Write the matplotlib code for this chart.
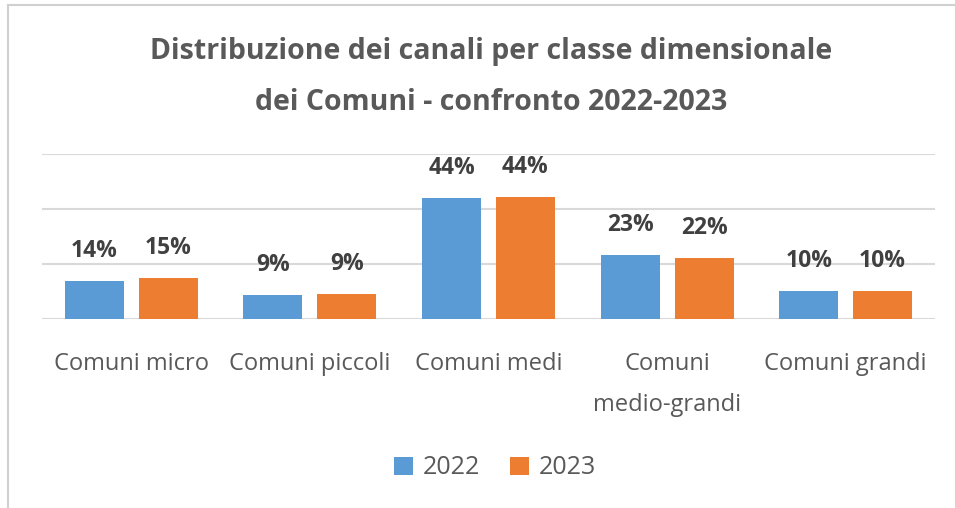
import matplotlib
matplotlib.use("Agg")
import matplotlib.pyplot as plt
import numpy as np

categories = ["Comuni micro", "Comuni piccoli", "Comuni medi", "Comuni\nmedio-grandi", "Comuni grandi"]
years = ["2022", "2023"]
values_2022 = [13.8, 8.7, 44.0, 23.2, 10.2]
values_2023 = [14.9, 9.1, 44.4, 22.2, 10.2]
labels_2022 = ["14%", "9%", "44%", "23%", "10%"]
labels_2023 = ["15%", "9%", "44%", "22%", "10%"]

colors = ["#5B9BD5", "#ED7D31"]
text_gray = "#595959"
label_gray = "#404040"

plt.rcParams['font.family'] = ['Open Sans', 'DejaVu Sans']

fig = plt.figure(figsize=(9.55, 5.08), dpi=100)
W, H = 955, 508
ax = fig.add_axes([42 / W, 1 - 319 / H, (935 - 42) / W, (319 - 154) / H])

x = np.arange(len(categories))
bw = 0.33
off = 0.207
b1 = ax.bar(x - off, values_2022, bw, color=colors[0], label=years[0], zorder=3)
b2 = ax.bar(x + off, values_2023, bw, color=colors[1], label=years[1], zorder=3)

for bars, labs in ((b1, labels_2022), (b2, labels_2023)):
    for r, t in zip(bars, labs):
        ax.annotate(t, (r.get_x() + r.get_width() / 2, r.get_height()),
                    xytext=(0, 13), textcoords="offset points", ha="center", va="bottom",
                    fontsize=16.5, fontweight="bold", color=label_gray, zorder=4)

ax.set_xlim(-0.5, len(categories) - 0.5)
ax.set_ylim(0, 60)
ax.set_yticks([0, 20, 40, 60])
ax.yaxis.grid(True, color="#D9D9D9", linewidth=1.5, zorder=0)
ax.tick_params(axis="y", left=False, labelleft=False)
ax.tick_params(axis="x", bottom=False, labelsize=17, labelcolor=text_gray, pad=20)
ax.set_xticks(x)
ax.set_xticklabels(categories, linespacing=1.95)
for s in ax.spines.values():
    s.set_visible(False)

fig.text(491 / W, 1 - 51 / H, "Distribuzione dei canali per classe dimensionale",
         ha="center", va="center", fontsize=20.5, fontweight="bold", color=text_gray)
fig.text(491 / W, 1 - 102 / H, "dei Comuni - confronto 2022-2023",
         ha="center", va="center", fontsize=20.5, fontweight="bold", color=text_gray)

leg = fig.legend(loc="center", bbox_to_anchor=(495 / W, 1 - 468 / H), ncol=2, frameon=False,
                 fontsize=18, labelcolor=text_gray, handlelength=0.75, handleheight=0.75,
                 handletextpad=0.4, columnspacing=1.2)

# screenshot frame
fig.add_artist(plt.Line2D([8 / W, 8 / W], [0, 1 - 5 / H], color="#D0D0D0", lw=1.5, transform=fig.transFigure))
fig.add_artist(plt.Line2D([8 / W, 1], [1 - 5 / H, 1 - 5 / H], color="#D0D0D0", lw=1.5, transform=fig.transFigure))

fig.savefig("out.png", dpi=100, facecolor="white")
